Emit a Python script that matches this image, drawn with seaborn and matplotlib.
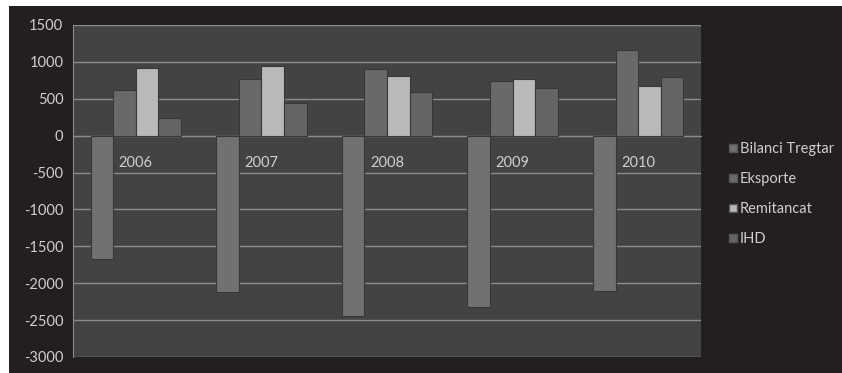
import numpy as np
import pandas as pd
import matplotlib.pyplot as plt
import seaborn as sns
from matplotlib.patches import Rectangle
from matplotlib.lines import Line2D

# values
years = ['2006', '2007', '2008', '2009', '2010']
series = ['Bilanci Tregtar', 'Eksporte', 'Remitancat', 'IHD']
bilanci = [-1667, -2114, -2439, -2317, -2100]
eksporte = [623, 772, 908, 745, 1165]
remitancat = [921, 948, 813, 772, 677]
ihd = [244, 447, 596, 650, 800]
y_ticks = [-3000, -2500, -2000, -1500, -1000, -500, 0, 500, 1000, 1500]

colors = {'Bilanci Tregtar': '#717173', 'Eksporte': '#69696b',
          'Remitancat': '#b9b9b9', 'IHD': '#646466'}

df = pd.DataFrame({
    'year': years * 4,
    'series': [s for s in series for _ in years],
    'value': bilanci + eksporte + remitancat + ihd,
})

sns.set_style("white")
plt.rcParams['font.family'] = ['Lato', 'DejaVu Sans']
text_col = '#cfcfcf'

fig = plt.figure(figsize=(8.42, 3.73), dpi=100, facecolor='white')
fig.patches.append(Rectangle((9 / 842, 0), 1 - 9 / 842, 1 - 6 / 373,
                             transform=fig.transFigure, facecolor='#231f20',
                             edgecolor='none', zorder=-10))
ax = fig.add_axes([73 / 842, 1 - 357 / 373, (701 - 73) / 842, (357 - 25) / 373])
ax.set_facecolor('#434345')

sns.barplot(data=df, x='year', y='value', hue='series', palette=colors,
            width=0.72, saturation=1, edgecolor='#38383a', linewidth=0.8,
            ax=ax, legend=True, zorder=3)

ax.set_ylim(-3000, 1500)
ax.set_xlim(-0.5, 4.5)
ax.set_yticks(y_ticks)
ax.set_yticklabels([str(v) for v in y_ticks], color=text_col, fontsize=10.5)
ax.yaxis.grid(True, color='#8c8c8c', linewidth=1)
ax.set_axisbelow(True)
ax.tick_params(axis='y', length=4, color='#8c8c8c', pad=3)

# category axis crossing at zero
ax.spines['bottom'].set_position(('data', 0))
ax.spines['bottom'].set_color('#8c8c8c')
ax.spines['left'].set_color('#8c8c8c')
ax.spines['top'].set_visible(False)
ax.spines['right'].set_visible(False)
ax.set_xticks(np.arange(0.5, 4.5, 1), minor=True)
ax.tick_params(axis='x', which='minor', length=4, color='#8c8c8c', direction='out')
ax.tick_params(axis='x', which='major', length=0, pad=15, labelcolor=text_col, labelsize=10.5)
ax.set_xlabel('')
ax.set_ylabel('')

handles = [Line2D([], [], marker='s', linestyle='none', markersize=6,
                  markerfacecolor=colors[s], markeredgecolor='#555555') for s in series]
ax.legend(handles, series, loc='center left', bbox_to_anchor=(1.02, 0.49),
          frameon=False, labelcolor=text_col, fontsize=10.5, handletextpad=0.1,
          labelspacing=1.1, handlelength=0.8)

plt.savefig('out.png', dpi=100, facecolor=fig.get_facecolor())
